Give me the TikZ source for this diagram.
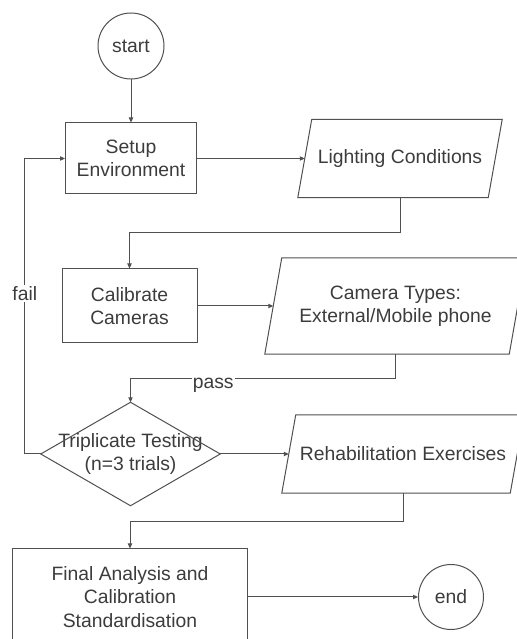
\documentclass[tikz,border=0pt]{standalone}
\usepackage{fontspec}
\setmainfont{Liberation Sans}
\usetikzlibrary{arrows.meta,calc,positioning}

\definecolor{r60g60b60}{rgb}{0.235294,0.235294,0.235294}
\definecolor{r80g80b80}{rgb}{0.313725,0.313725,0.313725}

\tikzset{
  flowline/.style={line width=0.030000cm, draw=r80g80b80},
  flowarrow/.style={flowline, -{Triangle[length=0.150000cm,width=0.130000cm]}},
  block/.style={draw=r80g80b80, line width=0.030000cm, rectangle, inner sep=0pt, align=center},
  terminal/.style={draw=r80g80b80, line width=0.030000cm, circle, inner sep=0pt},
  plainbox/.style={rectangle, inner sep=0pt, align=center},
  edgelabel/.style={fill=white, inner sep=1pt},
}

\begin{document}
\begin{tikzpicture}
                    \clip (0,0) rectangle (15.510000,19.170000);
                    {\fontsize{16.5}{20}\selectfont\color{r60g60b60}

                    % Marking start circle
                    \node [terminal, minimum size=1.980000cm] (start) at (3.930000,17.790000) {start};%

                    % Marking block Setup Environment
                    \node [block, minimum width=3.930000cm, minimum height=2.130000cm] (setup) at (3.930000,14.415000) {Setup\\Environment};%

                    % Marking data Lighting Conditions
                    \node [plainbox, minimum width=5.700000cm, minimum height=2.340000cm] (light) at (12.000000,14.415000) {Lighting Conditions};%
                    \draw [flowline] ([xshift=0.210000cm]light.north west) -- ([xshift=0.210000cm]light.north east) -- ([xshift=-0.210000cm]light.south east) -- ([xshift=-0.210000cm]light.south west) -- cycle;%

                    % Marking block Calibrate Cameras
                    \node [block, minimum width=4.050000cm, minimum height=2.220000cm] (calib) at (3.885000,9.990000) {Calibrate\\Cameras};%

                    % Marking data Camera Types
                    \node [plainbox, minimum width=7.320000cm, minimum height=2.880000cm] (camera) at (11.865000,9.990000) {Camera Types:\\External/Mobile phone};%
                    \draw [flowline] ([xshift=0.255000cm]camera.north west) -- ([xshift=0.255000cm]camera.north east) -- ([xshift=-0.255000cm]camera.south east) -- ([xshift=-0.255000cm]camera.south west) -- cycle;%

                    % Marking decision Triplicate Testing
                    \node [plainbox, minimum width=5.370000cm, minimum height=3.090000cm] (test) at (3.915000,5.550000) {Triplicate Testing\\(n=3 trials)};%
                    \draw [flowline] (test.north) -- (test.east) -- (test.south) -- (test.west) -- cycle;%

                    % Marking data Rehabilitation Exercises
                    \node [plainbox, minimum width=6.840000cm, minimum height=2.340000cm] (rehab) at (12.090000,5.550000) {Rehabilitation Exercises};%
                    \draw [flowline] ([xshift=0.210000cm]rehab.north west) -- ([xshift=0.210000cm]rehab.north east) -- ([xshift=-0.210000cm]rehab.south east) -- ([xshift=-0.210000cm]rehab.south west) -- cycle;%

                    % Marking block Final Analysis
                    \node [block, minimum width=7.020000cm, minimum height=2.880000cm] (final) at (3.900000,1.260000) {Final Analysis and\\Calibration\\Standardisation};%

                    % Marking end circle
                    \node [terminal, minimum size=1.950000cm] (end) at (13.530000,1.260000) {end};%

                    % Drawing arrows
                    \draw [flowarrow] (start) -- (setup);%
                    \draw [flowarrow] (setup.east) -- (light.west);%
                    \draw [flowarrow] (light.south) |- (3.885000,12.180000) -- (calib.north);%
                    \draw [flowarrow] (calib.east) -- (camera.west);%
                    \draw [flowarrow] (camera.south) |- (3.915000,7.815000) node [edgelabel, pos=0.844, anchor=north, yshift=0.050000cm] (pass) {pass} -- (test.north);%
                    \draw [flowarrow] (test.east) -- (rehab.west);%
                    \draw [flowarrow] (test.west) -- ++(-0.480000,0) |- (setup.west) node [edgelabel, pos=0.272] (fail) {fail};%
                    \draw [flowarrow] (rehab.south) |- (3.900000,3.510000) -- (final.north);%
                    \draw [flowarrow] (final.east) -- (end.west);%
                    }
\end{tikzpicture}
\end{document}
